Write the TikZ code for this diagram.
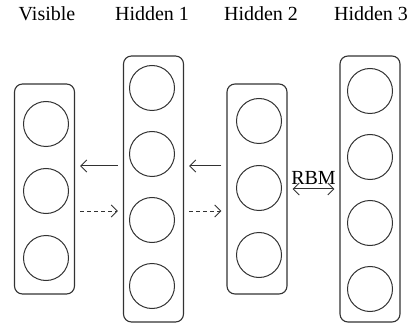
\documentclass[tikz,border=0pt]{standalone}
\usepackage{fontspec}
\setmainfont{Liberation Serif}
\usetikzlibrary{positioning, arrows.meta}
\definecolor{linegray}{RGB}{50,50,50}

\begin{document}
\begin{tikzpicture}[x=1pt, y=-1pt,
    layer/.style={draw=linegray, rounded corners=8pt, minimum width=60pt, line width=1.1pt, inner sep=0pt},
    shortlayer/.style={layer, minimum height=210pt},
    talllayer/.style={layer, minimum height=266pt},
    unit/.style={circle, draw=linegray, minimum size=45pt, line width=1pt, inner sep=0pt},
    title/.style={font=\fontsize{20}{24}\selectfont, anchor=base},
    arrow/.style={-{Straight Barb[length=6pt,width=12pt]}, linegray, line width=1pt, shorten >=5pt, shorten <=5pt},
    dasharrow/.style={arrow, dash pattern=on 4pt off 3pt}
]
\useasboundingbox (0,0) rectangle (419,328);

% Titles
\node[title] (tv) at (47,21) {Visible};
\node[title] (t1) at (152,21) {Hidden 1};
\node[title] (t2) at (261,21) {Hidden 2};
\node[title] (t3) at (371,21) {Hidden 3};

% Layers
\node[shortlayer] (vis) at (44.5,189) {};
\node[talllayer] (h1) at (153.5,189) {};
\node[shortlayer] (h2) at (257,189) {};
\node[talllayer] (h3) at (370,189) {};

% Units
\foreach \i/\y in {1/124, 2/191, 3/258}
    \node[unit] (v\i) at (46,\y) {};
\foreach \i/\y in {1/88, 2/154, 3/220, 4/286}
    \node[unit] (a\i) at (152,\y) {};
\foreach \i/\y in {1/121, 2/188, 3/255}
    \node[unit] (b\i) at (259,\y) {};
\foreach \i/\y in {1/91, 2/157, 3/223, 4/289}
    \node[unit] (c\i) at (370,\y) {};

% Connections
\draw[arrow] ([yshift=23pt]h1.west) -- ([yshift=23pt]vis.east);
\draw[dasharrow] ([yshift=-22pt]vis.east) -- ([yshift=-22pt]h1.west);
\draw[arrow] ([yshift=23pt]h2.west) -- ([yshift=23pt]h1.east);
\draw[dasharrow] ([yshift=-22pt]h1.east) -- ([yshift=-22pt]h2.west);
\draw[arrow, {Straight Barb[length=6pt,width=12pt]}-{Straight Barb[length=6pt,width=12pt]}] (h2.east) -- node[above=1pt, font=\fontsize{20}{24}\selectfont, text=black] (rbm) {RBM} (h3.west);

\end{tikzpicture}
\end{document}
